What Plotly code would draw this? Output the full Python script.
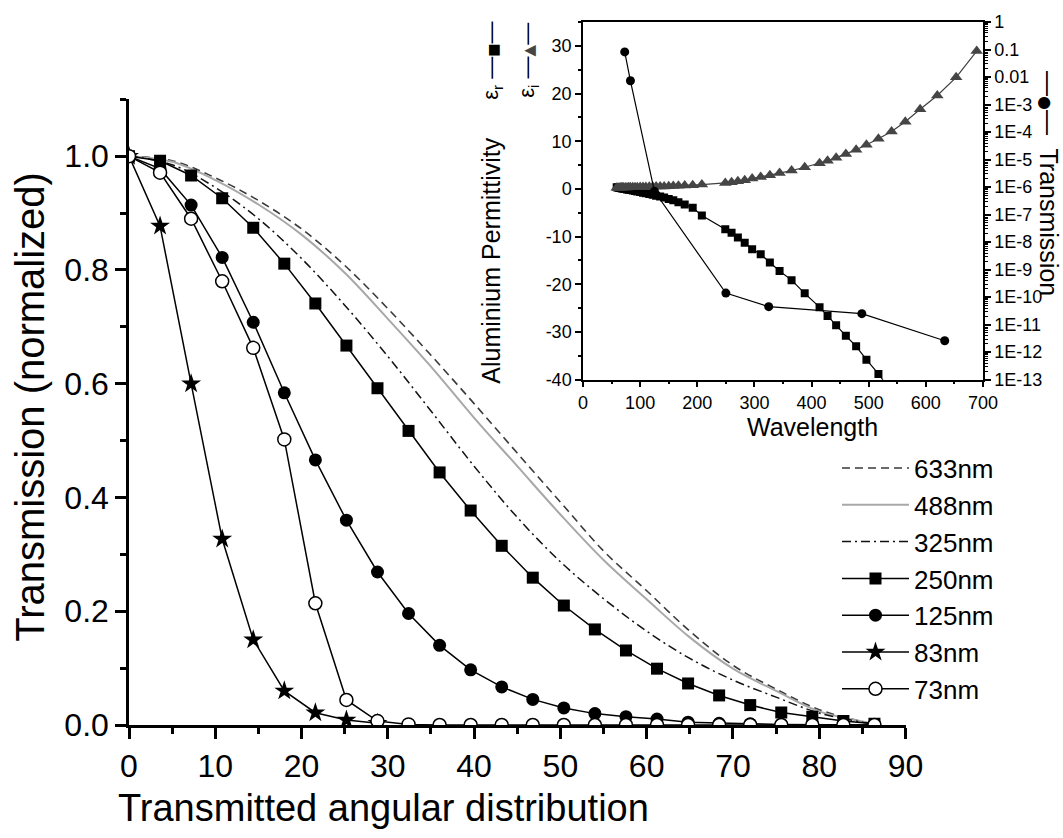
import plotly.graph_objects as go

# ---------------- main panel: transmitted angular distribution ----------------
angles_marked = [0, 3.6, 7.2, 10.8, 14.4, 18.0, 21.6, 25.2, 28.8, 32.4, 36.0, 39.6,
                 43.2, 46.8, 50.4, 54.0, 57.6, 61.2, 64.8, 68.4, 72.0, 75.6, 79.2, 82.8, 86.4]

t_250 = [1.0, 0.992, 0.966, 0.926, 0.874, 0.811, 0.741, 0.667, 0.592, 0.517, 0.444, 0.377,
         0.315, 0.259, 0.210, 0.168, 0.131, 0.099, 0.073, 0.052, 0.035, 0.022, 0.0146, 0.007, 0.002]
t_125 = [1.0, 0.978, 0.914, 0.822, 0.708, 0.584, 0.466, 0.360, 0.269, 0.196, 0.140, 0.097,
         0.067, 0.045, 0.030, 0.020, 0.0146, 0.0105, 0.005, 0.003, 0.002, 0.001, 0.0005, 0.0002, 0.0001]
t_83 = [1.0, 0.877, 0.600, 0.327, 0.150, 0.060, 0.0216, 0.0087, 0.003]
t_73 = [1.0, 0.971, 0.890, 0.780, 0.663, 0.502, 0.214, 0.044, 0.007, 0.001, 0.0, 0.0,
        0.0, 0.0, 0.0, 0.0, 0.0, 0.0, 0.0, 0.0, 0.0, 0.0, 0.0, 0.0, 0.0]

angles_smooth = [0, 5, 10, 15, 20, 25, 30, 35, 40, 45, 50, 55, 60, 65, 70, 75, 80, 85, 87]
t_633 = [1.0, 0.992, 0.962, 0.922, 0.872, 0.808, 0.732, 0.650, 0.565, 0.478, 0.392, 0.306,
         0.236, 0.165, 0.105, 0.063, 0.027, 0.006, 0.0]
t_488 = [1.0, 0.990, 0.958, 0.915, 0.862, 0.795, 0.714, 0.630, 0.540, 0.455, 0.370, 0.290,
         0.221, 0.154, 0.099, 0.060, 0.024, 0.006, 0.0]
t_325 = [1.0, 0.985, 0.945, 0.890, 0.820, 0.738, 0.648, 0.552, 0.455, 0.365, 0.287, 0.222,
         0.165, 0.117, 0.079, 0.049, 0.021, 0.005, 0.0]

# ---------------- inset: aluminium permittivity and transmission ----------------
wl_eps = [59, 61, 63, 65, 67, 69, 71, 74, 77, 80, 83, 87, 91, 95, 100, 105, 110, 116, 122,
          128, 135, 142, 150, 158, 167, 178, 192, 208, 249, 260, 271, 283, 296, 311, 327, 344,
          365, 388, 414, 428, 443, 460, 478, 496, 517, 540, 564, 590, 620, 653, 689]
eps_r = [0.35, 0.30, 0.25, 0.20, 0.15, 0.10, 0.05, -0.02, -0.10, -0.18, -0.25, -0.35, -0.45,
         -0.55, -0.65, -0.78, -0.90, -1.05, -1.25, -1.42, -1.60, -1.82, -2.10, -2.40, -2.78,
         -3.26, -3.96, -5.56, -8.48, -9.18, -10.2, -11.27, -12.66, -13.7, -15.44, -17.2,
         -19.13, -21.9, -24.8, -26.65, -28.6, -30.8, -33.0, -35.8, -38.8, -42.5]
eps_i = [0.25, 0.25, 0.26, 0.27, 0.28, 0.29, 0.30, 0.31, 0.32, 0.33, 0.34, 0.35, 0.36, 0.37,
         0.38, 0.40, 0.42, 0.44, 0.46, 0.48, 0.50, 0.53, 0.56, 0.60, 0.65, 0.70, 0.78, 0.90,
         1.26, 1.40, 1.60, 1.80, 2.16, 2.50, 2.85, 3.35, 3.85, 4.55, 5.40, 5.90, 6.55, 7.30,
         8.20, 9.26, 10.5, 12.05, 14.1, 16.7, 19.6, 23.4, 28.9]

wl_trans = [73, 83, 125, 250, 325, 488, 633]
trans = [8.2e-2, 7.3e-3, 7.0e-7, 1.4e-10, 4.5e-11, 2.5e-11, 2.6e-12]

inset_yticks = [-40, -30, -20, -10, 0, 10, 20, 30]
inset_yticklabels = ["-40", "-30", "-20", "-10", "0", "10", "20", "30"]
inset_yminor = [-35, -25, -15, -5, 5, 15, 25, 35]
log_ticks = [1e-13, 1e-12, 1e-11, 1e-10, 1e-9, 1e-8, 1e-7, 1e-6, 1e-5, 1e-4, 1e-3, 1e-2, 1e-1, 1]
log_ticklabels = ["1E-13", "1E-12", "1E-11", "1E-10", "1E-9", "1E-8", "1E-7", "1E-6",
                  "1E-5", "1E-4", "1E-3", "0.01", "0.1", "1"]
log_minor = [m * 10.0 ** k for k in range(-13, 0) for m in range(2, 10)]

FONT = "Liberation Sans, Arial, sans-serif"

# page geometry (pixels) -> paper fractions
FIG_W, FIG_H = 1063, 838
M_L, M_R, M_T, M_B = 129, 80, 18, 113
PW = FIG_W - M_L - M_R
PH = FIG_H - M_T - M_B


def fx(px):
    return (px - M_L) / PW


def fy(py):
    return (FIG_H - M_B - py) / PH


fig = go.Figure()

# smooth model curves
fig.add_trace(go.Scatter(x=angles_smooth, y=t_633, mode="lines", name="633nm",
                         line=dict(color="#3a3a3a", width=1.6, dash="8px,5px", shape="spline"),
                         xaxis="x", yaxis="y"))
fig.add_trace(go.Scatter(x=angles_smooth, y=t_488, mode="lines", name="488nm",
                         line=dict(color="#a8a8a8", width=2, shape="spline"),
                         xaxis="x", yaxis="y"))
fig.add_trace(go.Scatter(x=angles_smooth, y=t_325, mode="lines", name="325nm",
                         line=dict(color="#111111", width=1.5, dash="9px,4px,2px,4px", shape="spline"),
                         xaxis="x", yaxis="y"))

# computed series with markers
fig.add_trace(go.Scatter(x=angles_marked, y=t_250, mode="lines+markers", name="250nm",
                         line=dict(color="black", width=1.5),
                         marker=dict(symbol="square", size=12, color="black"),
                         xaxis="x", yaxis="y"))
fig.add_trace(go.Scatter(x=angles_marked, y=t_125, mode="lines+markers", name="125nm",
                         line=dict(color="black", width=1.5),
                         marker=dict(symbol="circle", size=13, color="black"),
                         xaxis="x", yaxis="y"))
fig.add_trace(go.Scatter(x=angles_marked[:len(t_83)], y=t_83, mode="lines+markers", name="83nm",
                         line=dict(color="black", width=1.5),
                         marker=dict(symbol="star", size=15, color="black"),
                         xaxis="x", yaxis="y"))
fig.add_trace(go.Scatter(x=angles_marked, y=t_73, mode="lines+markers", name="73nm",
                         line=dict(color="black", width=1.5),
                         marker=dict(symbol="circle", size=13, color="white",
                                     line=dict(color="black", width=1.5)),
                         xaxis="x", yaxis="y"))

# inset traces
fig.add_trace(go.Scatter(x=wl_eps[:len(eps_r)], y=eps_r, mode="lines+markers", showlegend=False,
                         line=dict(color="black", width=1.2),
                         marker=dict(symbol="square", size=8, color="black"),
                         xaxis="x2", yaxis="y2"))
fig.add_trace(go.Scatter(x=wl_eps, y=eps_i, mode="lines+markers", showlegend=False,
                         line=dict(color="#404040", width=1.2),
                         marker=dict(symbol="triangle-up", size=11, color="#454545"),
                         xaxis="x2", yaxis="y2"))
fig.add_trace(go.Scatter(x=wl_trans, y=trans, mode="lines+markers", showlegend=False,
                         line=dict(color="black", width=1.2),
                         marker=dict(symbol="circle", size=9, color="black"),
                         xaxis="x2", yaxis="y3"))

axis_common = dict(showgrid=False, zeroline=False, color="black")

fig.update_layout(
    width=FIG_W, height=FIG_H,
    margin=dict(l=M_L, r=M_R, t=M_T, b=M_B, pad=0),
    plot_bgcolor="white", paper_bgcolor="white",
    font=dict(family=FONT, color="black"),
    showlegend=True,
    legend=dict(x=fx(837), y=fy(443), xanchor="left", yanchor="top",
                font=dict(size=26, family=FONT), itemwidth=67,
                bgcolor="rgba(0,0,0,0)", borderwidth=0, tracegroupgap=0,
                itemsizing="trace"),
    xaxis=dict(**axis_common, domain=[0, fx(905.5)], anchor="y", range=[0, 90],
               tickmode="linear", tick0=0, dtick=10, ticks="outside", ticklen=11, tickwidth=2.5,
               showline=True, linewidth=2.5, linecolor="black",
               tickfont=dict(size=32, family=FONT),
               minor=dict(tickmode="linear", tick0=0, dtick=5, ticks="outside", ticklen=6,
                          tickwidth=2.5, tickcolor="black")),
    yaxis=dict(**axis_common, domain=[0, fy(95.7)], anchor="x", range=[0, 1.1],
               tickmode="linear", tick0=0, dtick=0.2, tickformat=".1f", ticks="outside",
               ticklen=11, tickwidth=2.5, showline=True, linewidth=2.5, linecolor="black",
               tickfont=dict(size=32, family=FONT),
               minor=dict(tickmode="linear", tick0=0, dtick=0.1, ticks="outside", ticklen=6,
                          tickwidth=2.5, tickcolor="black")),
    xaxis2=dict(**axis_common, domain=[fx(583), 1.0], anchor="y2", range=[0, 700],
                tickmode="linear", tick0=0, dtick=100, ticks="outside", ticklen=6, tickwidth=1.5,
                showline=True, linewidth=1.5, linecolor="black", mirror=True,
                tickfont=dict(size=18, family=FONT),
                minor=dict(tickmode="linear", tick0=0, dtick=50, ticks="outside", ticklen=3,
                           tickwidth=1.5, tickcolor="black")),
    xaxis3=dict(**axis_common, overlaying="x2", side="top", anchor="y2", range=[0, 700],
                tickmode="linear", tick0=0, dtick=100, ticks="inside", ticklen=6, tickwidth=1.5,
                showticklabels=False, showline=False,
                minor=dict(tickmode="linear", tick0=0, dtick=50, ticks="inside", ticklen=3,
                           tickwidth=1.5, tickcolor="black")),
    yaxis2=dict(**axis_common, domain=[fy(377.7), 1.0], anchor="x2", range=[-40, 35],
                tickvals=inset_yticks, ticktext=inset_yticklabels, ticks="outside",
                ticklen=6, tickwidth=1.5, showline=True, linewidth=1.5, linecolor="black",
                tickfont=dict(size=18, family=FONT),
                minor=dict(tickvals=inset_yminor, ticks="outside", ticklen=3, tickwidth=1.5,
                           tickcolor="black")),
    yaxis3=dict(**axis_common, overlaying="y2", side="right", anchor="x2", type="log",
                range=[-13, 0], tickvals=log_ticks, ticktext=log_ticklabels,
                ticks="outside", ticklen=6, tickwidth=1.5, showline=True, linewidth=1.5,
                linecolor="black", tickfont=dict(size=18, family=FONT),
                minor=dict(tickvals=log_minor, ticks="outside", ticklen=3, tickwidth=1,
                           tickcolor="black")),
)

SYM = "font-family:DejaVu Sans;"
annotations = [
    dict(text="Transmission (normalized)", x=fx(30), y=fy(405), textangle=-90,
         font=dict(size=40, family=FONT)),
    dict(text="Transmitted angular distribution", x=fx(383), y=fy(808),
         font=dict(size=38, family=FONT)),
    dict(text="Aluminium Permittivity", x=fx(491), y=fy(258), textangle=-90,
         font=dict(size=25, family=FONT)),
    dict(text="Wavelength", x=fx(812), y=fy(425), font=dict(size=25, family=FONT)),
    dict(text=f"ε<sub>r</sub> —<span style='{SYM}font-size:14px'>■</span>—",
         x=fx(492), y=fy(57), textangle=-90,
         font=dict(size=22, family=FONT, color="black")),
    dict(text=f"ε<sub>i</sub> —<span style='{SYM}font-size:15px;color:#454545'>▲</span>—",
         x=fx(528), y=fy(57), textangle=-90,
         font=dict(size=22, family=FONT, color="black")),
    dict(text=f"—<span style='{SYM}font-size:16px'>●</span>—  Transmission",
         x=fx(1049), y=fy(180), textangle=90,
         font=dict(size=25, family=FONT)),
]
for a in annotations:
    a.update(xref="paper", yref="paper", showarrow=False, xanchor="center", yanchor="middle")
fig.update_layout(annotations=annotations)

fig.write_html("out.html")
